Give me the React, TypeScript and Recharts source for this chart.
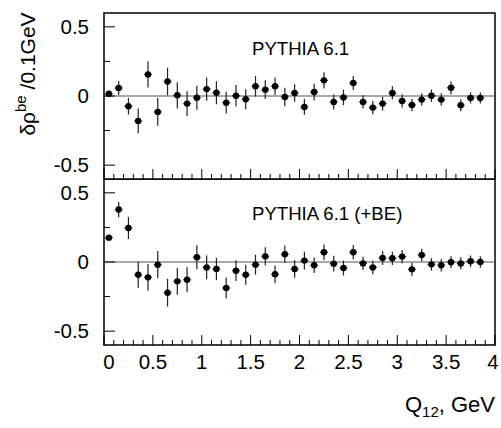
import React from "react";
import {
  ScatterChart,
  Scatter,
  XAxis,
  YAxis,
  ErrorBar,
  ReferenceLine,
  ReferenceArea,
} from "recharts";

// bin centres, GeV
const qBins = [
  0.05, 0.15, 0.25, 0.35, 0.45, 0.55, 0.65, 0.75, 0.85, 0.95,
  1.05, 1.15, 1.25, 1.35, 1.45, 1.55, 1.65, 1.75, 1.85, 1.95,
  2.05, 2.15, 2.25, 2.35, 2.45, 2.55, 2.65, 2.75, 2.85, 2.95,
  3.05, 3.15, 3.25, 3.35, 3.45, 3.55, 3.65, 3.75, 3.85,
];

// PYTHIA 6.1
const plainValues = [
  0.017, 0.058, -0.074, -0.18, 0.156, -0.115, 0.105, 0.005, -0.055, -0.012,
  0.05, 0.024, -0.048, 0.002, -0.024, 0.07, 0.046, 0.07, -0.007, 0.022,
  -0.079, 0.029, 0.113, -0.043, -0.01, 0.094, -0.043, -0.084, -0.055, 0.022,
  -0.036, -0.065, -0.026, 0.002, -0.026, 0.06, -0.067, -0.014, -0.014,
];
const plainErrors = [
  0.01, 0.05, 0.06, 0.09, 0.095, 0.1, 0.1, 0.095, 0.09, 0.087,
  0.084, 0.083, 0.078, 0.078, 0.072, 0.074, 0.068, 0.063, 0.067, 0.063,
  0.057, 0.06, 0.058, 0.054, 0.056, 0.05, 0.048, 0.048, 0.05, 0.048,
  0.048, 0.045, 0.045, 0.045, 0.045, 0.047, 0.043, 0.04, 0.04,
];

// PYTHIA 6.1 (+BE)
const beValues = [
  0.176, 0.379, 0.246, -0.092, -0.111, -0.019, -0.222, -0.14, -0.128, 0.034,
  -0.039, -0.051, -0.188, -0.063, -0.092, -0.019, 0.041, -0.089, 0.056, -0.051,
  0.01, -0.024, 0.07, -0.012, -0.043, 0.07, -0.01, -0.039, 0.029, 0.027,
  0.039, -0.053, 0.051, -0.017, -0.024, -0.002, -0.01, 0.005, 0.0,
];
const beErrors = [
  0.01, 0.055, 0.08, 0.094, 0.097, 0.099, 0.1, 0.097, 0.09, 0.087,
  0.086, 0.08, 0.076, 0.075, 0.072, 0.072, 0.066, 0.064, 0.064, 0.063,
  0.064, 0.056, 0.056, 0.057, 0.054, 0.052, 0.048, 0.05, 0.05, 0.048,
  0.048, 0.048, 0.045, 0.045, 0.045, 0.044, 0.044, 0.042, 0.042,
];

const binHalfWidth = 0.04;

const xTicks = [
  0, 0.1, 0.2, 0.3, 0.4, 0.5, 0.6, 0.7, 0.8, 0.9,
  1, 1.1, 1.2, 1.3, 1.4, 1.5, 1.6, 1.7, 1.8, 1.9,
  2, 2.1, 2.2, 2.3, 2.4, 2.5, 2.6, 2.7, 2.8, 2.9,
  3, 3.1, 3.2, 3.3, 3.4, 3.5, 3.6, 3.7, 3.8, 3.9, 4,
];
const yTicks = [-0.5, -0.25, 0, 0.25, 0.5];

const FONT = "'Liberation Sans', Arial, Helvetica, sans-serif";
const W = 501;

const plainData = qBins.map((q, i) => ({
  q,
  v: plainValues[i],
  err: plainErrors[i],
  xErr: binHalfWidth,
}));
const beData = qBins.map((q, i) => ({
  q,
  v: beValues[i],
  err: beErrors[i],
  xErr: binHalfWidth,
}));

const isMajor = (v: number) => Math.abs(v * 2 - Math.round(v * 2)) < 1e-6;

const makeXTick = (showLabel: boolean) => (props: any) => {
  const { x, y, payload } = props;
  const v = payload.value;
  const major = isMajor(v);
  let dx = 0;
  if (v === 0) dx = 5;
  if (v === 4) dx = -2;
  return (
    <g>
      <line x1={x} x2={x} y1={y} y2={y - (major ? 10 : 5)} stroke="#000" strokeWidth={1} />
      {showLabel && major && (
        <text x={x + dx} y={y + 24} textAnchor="middle" fontSize={20.5} fontFamily={FONT} fill="#000">
          {String(v)}
        </text>
      )}
    </g>
  );
};

const YTick = (props: any) => {
  const { x, y, payload } = props;
  const v = payload.value;
  const major = isMajor(v);
  return (
    <g>
      <line x1={x} x2={x + (major ? 11 : 6)} y1={y} y2={y} stroke="#000" strokeWidth={1} />
      {major && (
        <text x={x - 15} y={y + 7} textAnchor="end" fontSize={20.5} fontFamily={FONT} fill="#000">
          {String(v)}
        </text>
      )}
    </g>
  );
};

const Dot = (props: any) => <circle cx={props.cx} cy={props.cy} r={3.2} fill="#000" />;

const Panel = ({
  data,
  title,
  titleY,
  height,
  top,
  xAxisHeight,
  showXLabels,
  children,
}: any) => (
  <div style={{ position: "absolute", left: 0, top }}>
    <ScatterChart
      width={W}
      height={height}
      margin={{ top: top === 0 ? 13 : 0, right: 6, bottom: 0, left: 0 }}
    >
      <XAxis
        type="number"
        dataKey="q"
        domain={[0, 4]}
        allowDataOverflow
        ticks={xTicks}
        interval={0}
        height={xAxisHeight}
        tickSize={0}
        tickMargin={0}
        axisLine={false}
        tickLine={false}
        tick={makeXTick(showXLabels)}
      />
      <YAxis
        type="number"
        dataKey="v"
        domain={[-0.6, 0.6]}
        allowDataOverflow
        ticks={yTicks}
        interval={0}
        width={104}
        tickSize={0}
        tickMargin={0}
        axisLine={false}
        tickLine={false}
        tick={YTick}
      />
      <ReferenceLine y={0} stroke="#555" strokeWidth={1.2} />
      <ReferenceArea x1={0} x2={4} y1={-0.6} y2={0.6} fill="none" stroke="#000" strokeWidth={1.5} />
      <Scatter data={data} fill="#000" shape={Dot} isAnimationActive={false}>
        <ErrorBar dataKey="err" direction="y" width={0} stroke="#222" strokeWidth={1.2} />
        <ErrorBar dataKey="xErr" direction="x" width={0} stroke="#222" strokeWidth={1.2} />
      </Scatter>
      <text x={252} y={titleY} fontSize={18.6} fontFamily={FONT} fill="#000">
        {title}
      </text>
      {children}
    </ScatterChart>
  </div>
);

export default function App() {
  return (
    <div
      style={{
        position: "absolute",
        left: 0,
        top: 0,
        width: W,
        height: 428,
        background: "#fff",
        fontFamily: FONT,
      }}
    >
      <Panel
        data={plainData}
        title="PYTHIA 6.1"
        titleY={55}
        height={180}
        top={0}
        xAxisHeight={1}
        showXLabels={false}
      >
        <text
          transform="translate(35,74) rotate(-90)"
          textAnchor="middle"
          fontSize={21}
          fontFamily={FONT}
          fill="#000"
        >
          δρ
          <tspan dy={-9} fontSize={15}>be</tspan>
          <tspan dy={9}> /0.1GeV</tspan>
        </text>
      </Panel>
      <Panel
        data={beData}
        title="PYTHIA 6.1 (+BE)"
        titleY={41}
        height={249}
        top={179}
        xAxisHeight={83}
        showXLabels={true}
      >
        <text x={495} y={233} textAnchor="end" fontSize={22} fontFamily={FONT} fill="#000">
          Q
          <tspan dy={5} fontSize={15}>12</tspan>
          <tspan dy={-5}>, GeV</tspan>
        </text>
      </Panel>
    </div>
  );
}
